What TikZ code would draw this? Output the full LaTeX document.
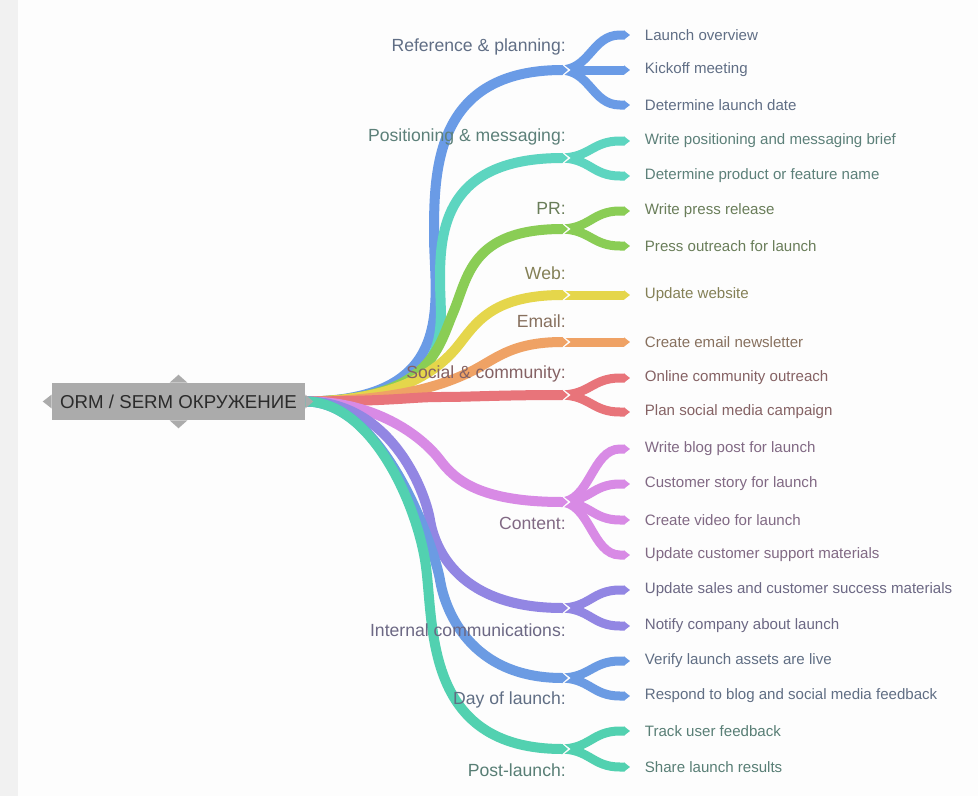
\documentclass[tikz,border=0pt]{standalone}
\usepackage{fontspec}
\setmainfont{Liberation Sans}
\usetikzlibrary{arrows.meta,calc}

\definecolor{refblue}{HTML}{6A9BE6}
\definecolor{posteal}{HTML}{5DD5C0}
\definecolor{prgreen}{HTML}{8ACD55}
\definecolor{webyellow}{HTML}{E5D64B}
\definecolor{mailorange}{HTML}{EFA265}
\definecolor{socialred}{HTML}{E8747A}
\definecolor{contviolet}{HTML}{D88AE5}
\definecolor{intpurple}{HTML}{9286E3}
\definecolor{dayblue}{HTML}{6B9BE3}
\definecolor{postteal}{HTML}{52D1B0}
\definecolor{rootgray}{HTML}{ABABAB}
\definecolor{roottext}{HTML}{2B2B2B}
\definecolor{cardbg}{HTML}{FDFDFD}
\definecolor{stripgray}{HTML}{F1F1F1}

\pgfdeclarelayer{back}
\pgfdeclarelayer{bands}
\pgfsetlayers{back,bands,main}

\begin{document}
\begin{tikzpicture}[x=0.75pt,y=-0.75pt,
    band/.style={draw=#1,line width=7.5pt,-{Triangle[length=4.5pt,width=0pt 1]}},
    fork/.style={draw=#1,line width=6.75pt,-{Triangle[length=4.5pt,width=0pt 1]}},
    lab/.style={anchor=east,inner sep=0pt,text=#1!40!black!75,font=\fontsize{13.2}{15}\selectfont},
    item/.style={anchor=west,inner xsep=11pt,inner ysep=0pt,text=#1!40!black!75,font=\fontsize{11.3}{13}\selectfont},
    rootbox/.style={fill=rootgray,text=roottext,minimum width=189.75pt,minimum height=27.75pt,inner sep=0pt,font=\fontsize{14}{16}\selectfont}]
  \useasboundingbox (0,0) rectangle (978,796);
  \begin{pgfonlayer}{back}
    \fill[cardbg] (0,0) rectangle (978,796);
    \fill[stripgray] (0,0) rectangle (18,796);
  \end{pgfonlayer}

  % central topic
  \node[rootbox] (root) at (178.5,401.5) {ORM / SERM ОКРУЖЕНИЕ};
  \fill[rootgray] ([shift={(0,-7)}]root.west) -- ([shift={(-9,0)}]root.west) -- ([shift={(0,7)}]root.west) -- cycle;
  \fill[rootgray] ([shift={(0,-7)}]root.east) -- ([shift={(8,0)}]root.east) -- ([shift={(0,7)}]root.east) -- cycle;
  \fill[rootgray] ([shift={(-9,0)}]root.north) -- ([shift={(0,-8)}]root.north) -- ([shift={(9,0)}]root.north) -- cycle;
  \fill[rootgray] ([shift={(-9,0)}]root.south) -- ([shift={(0,8)}]root.south) -- ([shift={(9,0)}]root.south) -- cycle;

  % branches: name/colour/junction y/first control x/mid x/mid y/tangent/last control x/label y/label/items
  \foreach \name/\col/\yj/\ax/\mx/\my/\tx/\ty/\bx/\ly/\lab/\items in {
      ref/refblue/70/460/434/235/0/-65/435/47/{Reference \& planning:}/{35/{Launch overview},70/{Kickoff meeting},105/{Determine launch date}},
      pos/posteal/158/460/440/280/0/-50/445/137/{Positioning \& messaging:}/{141/{Write positioning and messaging brief},176/{Determine product or feature name}},
      pr/prgreen/229/430/453/313/15/-35/470/208/{PR:}/{211/{Write press release},246/{Press outreach for launch}},
      web/webyellow/295/400/457/347/18/-22/490/273/{Web:}/{295/{Update website}},
      email/mailorange/342/400/470/372/25/-12/510/321/{Email:}/{342/{Create email newsletter}},
      social/socialred/395/400/440/397/30/0/500/374/{Social \& community:}/{378/{Online community outreach},412/{Plan social media campaign}},
      content/contviolet/502/380/440/460/15/20/480/523/{Content:}/{449/{Write blog post for launch},484/{Customer story for launch},520/{Create video for launch},555/{Update customer support materials}},
      internal/intpurple/608/390/430/520/5/30/460/630/{Internal communications:}/{590/{Update sales and customer success materials},626/{Notify company about launch}},
      day/dayblue/678/385/440/580/5/30/470/700/{Day of launch:}/{661/{Verify launch assets are live},696/{Respond to blog and social media feedback}},
      post/postteal/749/370/425/560/10/60/420/770/{Post-launch:}/{731/{Track user feedback},767/{Share launch results}}}{
    \coordinate (j-\name) at (568,\yj);
    \node[lab=\col] (lab-\name) at (566,\ly) {\lab};
    \foreach \yi/\txt in \items {
      \node[item=\col] (it-\name-\yi) at (630,\yi) {\txt};
      \begin{pgfonlayer}{bands}
        \draw[fork=\col] ([xshift=-6pt]j-\name) .. controls +(30,0) and +(-28,0) .. (620,\yi) -- (it-\name-\yi.west);
      \end{pgfonlayer}
    }
    \begin{pgfonlayer}{bands}
      \fill[cardbg] ([shift={(-9,-9)}]j-\name) -- ([shift={(2.5,0)}]j-\name) -- ([shift={(-9,9)}]j-\name) -- cycle;
      \draw[band=\col] (root.east) .. controls (\ax,401) and ($(\mx,\my)-(\tx,\ty)$) .. (\mx,\my)
        .. controls ($(\mx,\my)+(\tx,\ty)$) and (\bx,\yj) .. (j-\name);
    \end{pgfonlayer}
  }
\end{tikzpicture}
\end{document}
